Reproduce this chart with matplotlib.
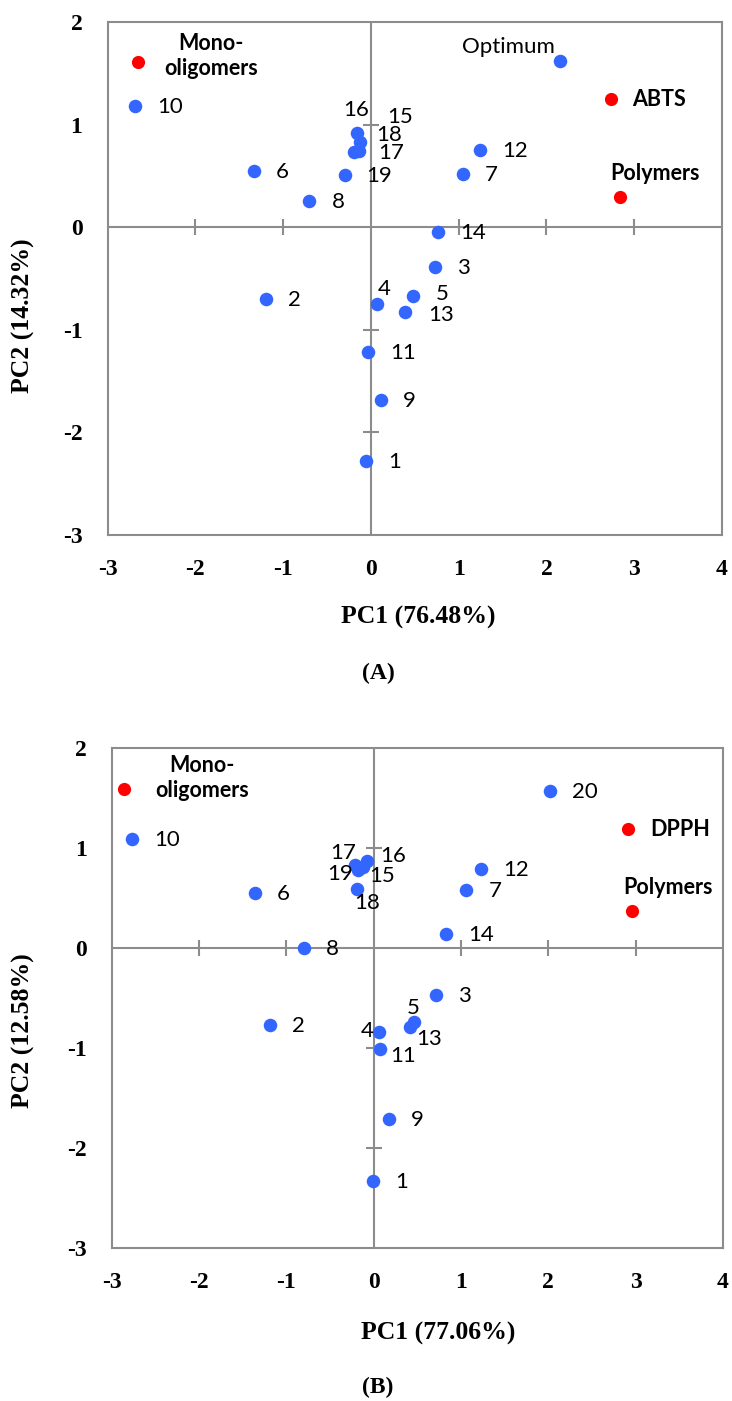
import numpy as np
import matplotlib.pyplot as plt

plt.rcParams['axes.unicode_minus'] = False

# panel A (ABTS) scores
a_names = ['1', '2', '3', '4', '5', '6', '7', '8', '9', '10', '11', '12', '13',
           '14', '15', '16', '17', '18', '19', 'Optimum']
a_pc1 = [-0.05, -1.20, 0.73, 0.07, 0.48, -1.33, 1.05, -0.70, 0.11, -2.69, -0.03,
         1.24, 0.39, 0.77, -0.19, -0.16, -0.14, -0.12, -0.30, 2.15]
a_pc2 = [-2.28, -0.70, -0.39, -0.75, -0.67, 0.55, 0.52, 0.26, -1.68, 1.18, -1.22,
         0.75, -0.83, -0.05, 0.73, 0.92, 0.74, 0.83, 0.51, 1.62]
a_load_names = ['Mono-\noligomers', 'ABTS', 'Polymers']
a_load_pc1 = [-2.65, 2.73, 2.84]
a_load_pc2 = [1.61, 1.25, 0.29]

# panel B (DPPH) scores
b_names = ['1', '2', '3', '4', '5', '6', '7', '8', '9', '10', '11', '12', '13',
           '14', '15', '16', '17', '18', '19', '20']
b_pc1 = [-0.01, -1.19, 0.71, 0.065, 0.46, -1.36, 1.06, -0.80, 0.175, -2.77, 0.077,
         1.23, 0.42, 0.83, -0.12, -0.08, -0.21, -0.19, -0.18, 2.02]
b_pc2 = [-2.33, -0.77, -0.47, -0.84, -0.74, 0.55, 0.58, 0.0, -1.71, 1.09, -1.01,
         0.79, -0.79, 0.14, 0.81, 0.87, 0.83, 0.59, 0.78, 1.57]
b_load_names = ['Mono-\noligomers', 'DPPH', 'Polymers']
b_load_pc1 = [-2.86, 2.91, 2.96]
b_load_pc2 = [1.59, 1.19, 0.37]

xticks = [-3, -2, -1, 0, 1, 2, 3, 4]
yticks = [-3, -2, -1, 0, 1, 2]

# label offsets in pixels (dx, dy, ha); default is right of the dot
a_off = {'16': (-14, 23, 'left'), '15': (33, 35, 'left'), '18': (16, 7, 'left'),
         '17': (20, -2, 'left'), '4': (1, 15, 'left'), '5': (23, 2, 'left'),
         '13': (23, -3, 'left'), 'Optimum': (-5, 14, 'right'),
         'Polymers': (35, 24, 'center'), 'Mono-\noligomers': (73, 6, 'center')}
b_off = {'17': (1, 12, 'right'), '19': (-5, -4, 'right'), '15': (6, -9, 'left'),
         '16': (14, 5, 'left'), '18': (-3, -14, 'left'), '5': (-7, 14, 'left'),
         '13': (6, -12, 'left'), '4': (-6, 1, 'right'), '11': (10, -7, 'left'),
         'Polymers': (36, 23, 'center'), 'Mono-\noligomers': (78, 11, 'center')}

GRAY = '#8c8c8c'
BLUE = '#3366ff'
RED = '#ff0000'
SERIF = 'Liberation Serif'
SANS = 'Lato'


def draw_panel(ax, names, pc1, pc2, lnames, lpc1, lpc2, offs):
    ax.set_xlim(xticks[0], xticks[-1])
    ax.set_ylim(yticks[0], yticks[-1])
    ax.axhline(0, color=GRAY, lw=1.5, zorder=1)
    ax.axvline(0, color=GRAY, lw=1.5, zorder=1)
    inx = [t for t in xticks[1:-1] if t != 0]
    iny = [t for t in yticks[1:-1] if t != 0]
    ax.plot(inx, np.zeros(len(inx)), ls='none', marker='|', ms=12, mew=1.5,
            color=GRAY, zorder=1)
    ax.plot(np.zeros(len(iny)), iny, ls='none', marker='_', ms=12, mew=1.5,
            color=GRAY, zorder=1)
    ax.scatter(pc1, pc2, s=95, color=BLUE, zorder=3, linewidths=0)
    ax.scatter(lpc1, lpc2, s=90, color=RED, zorder=3, linewidths=0)
    for n, x, y in zip(names, pc1, pc2):
        dx, dy, ha = offs.get(n, (22, -1, 'left'))
        ax.annotate(n, (x, y), xytext=(dx, dy), textcoords='offset pixels',
                    ha=ha, va='center', fontsize=16, family=SANS, zorder=4)
    for n, x, y in zip(lnames, lpc1, lpc2):
        dx, dy, ha = offs.get(n, (22, -1, 'left'))
        ax.annotate(n, (x, y), xytext=(dx, dy), textcoords='offset pixels',
                    ha=ha, va='center', fontsize=15.5, family=SANS,
                    fontweight='bold', multialignment='center', linespacing=1.2,
                    zorder=4)
    ax.set_xticks(xticks)
    ax.set_yticks(yticks)
    ax.tick_params(length=0, labelsize=17)
    ax.tick_params(axis='x', pad=17)
    ax.tick_params(axis='y', pad=18)
    for lab in ax.get_xticklabels() + ax.get_yticklabels():
        lab.set_family(SERIF)
        lab.set_fontweight('bold')
    for sp in ax.spines.values():
        sp.set_color(GRAY)
        sp.set_linewidth(1.5)


fig = plt.figure(figsize=(7.32, 14.01), dpi=100)
H = 1401.0
W = 732.0
ax1 = fig.add_axes([107.5 / W, 1 - 535 / H, 614.5 / W, 513 / H])
ax2 = fig.add_axes([111.7 / W, 1 - 1248 / H, 611.3 / W, 500 / H])

draw_panel(ax1, a_names, a_pc1, a_pc2, a_load_names, a_load_pc1, a_load_pc2, a_off)
draw_panel(ax2, b_names, b_pc1, b_pc2, b_load_names, b_load_pc1, b_load_pc2, b_off)

tkw = dict(family=SERIF, fontweight='bold', fontsize=18.5, ha='center', va='center')
fig.text(23 / W, 1 - 316 / H, 'PC2 (14.32%)', rotation=90, **tkw)
fig.text(418 / W, 1 - 617 / H, 'PC1 (76.48%)', **tkw)
fig.text(438 / W, 1 - 1333 / H, 'PC1 (77.06%)', **tkw)
fig.text(23 / W, 1 - 1031 / H, 'PC2 (12.58%)', rotation=90, **tkw)
pkw = dict(tkw, fontsize=17)
fig.text(378 / W, 1 - 673 / H, '(A)', **pkw)
fig.text(378 / W, 1 - 1387 / H, '(B)', **pkw)

fig.savefig('out.png', dpi=100)
